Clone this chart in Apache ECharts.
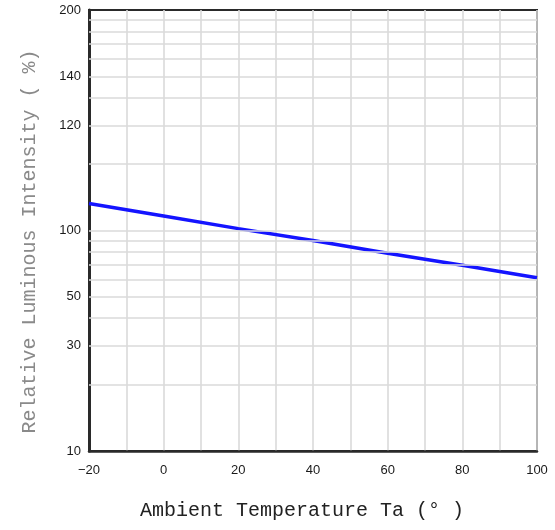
<!DOCTYPE html>
<html>
<head>
<meta charset="utf-8">
<script src="https://cdn.jsdelivr.net/npm/echarts@6/dist/echarts.min.js"></script>
<style>html,body{margin:0;padding:0;background:#fff}#c{width:555px;height:530px}</style>
</head>
<body>
<div id="c"></div>
<script>
// Data (y on the chart's log-style grid)
var temperatures = [-20, 0, 20, 40, 60, 80, 100];
var intensity = [132.5, 116.4, 102, 90.1, 78.8, 69.5, 61.1];
// Tick labels
var xTickValues = [-20, 0, 20, 40, 60, 80, 100];
var xTickLabels = ['\u221220', '0', '20', '40', '60', '80', '100'];
var yTickValues = [10, 30, 50, 100, 300, 500, 1000];
var yTickLabels = ['10', '30', '50', '100', '120', '140', '200'];
var yGridValues = [20, 30, 40, 50, 60, 70, 80, 90, 100, 200, 300, 400, 500, 600, 700, 800, 900];

var chart = echarts.init(document.getElementById('c'), null, {renderer: 'canvas'});
var option = {
  animation: false,
  backgroundColor: '#ffffff',
  grid: {left: 89, right: 18, top: 10, bottom: 79, show: true, borderColor: '#2a2a2a', borderWidth: 2, backgroundColor: 'transparent'},
  xAxis: {
    type: 'value', min: -20, max: 100, interval: 10,
    name: 'Ambient Temperature Ta (\u00b0 )', nameLocation: 'middle', nameGap: 50,
    nameTextStyle: {fontFamily: 'Liberation Mono', fontSize: 20, color: '#222', padding: [0, 22, 0, 0]},
    axisLine: {show: true, onZero: false, lineStyle: {color: '#2a2a2a', width: 2.5}}, axisTick: {show: false},
    axisLabel: {
      customValues: xTickValues,
      margin: 13, fontFamily: 'Liberation Sans', fontSize: 13, color: '#1a1a1a',
      formatter: function (v) { var i = xTickValues.indexOf(v); return i >= 0 ? xTickLabels[i] : ''; }
    },
    splitLine: {show: true, lineStyle: {color: '#dadada', width: 1.6}}
  },
  yAxis: {
    type: 'log', logBase: 10, min: 10, max: 1000,
    name: 'Relative Luminous Intensity ( %)', nameLocation: 'middle', nameGap: 49, nameRotate: 90,
    nameTextStyle: {fontFamily: 'Liberation Mono', fontSize: 20, color: '#8a8a8a', padding: [0, 22, 0, 0]},
    axisLine: {show: true, onZero: false, lineStyle: {color: '#2a2a2a', width: 3}}, axisTick: {show: false},
    axisLabel: {
      customValues: yTickValues,
      margin: 8, fontFamily: 'Liberation Sans', fontSize: 13, color: '#1a1a1a',
      formatter: function (v) {
        for (var i = 0; i < yTickValues.length; i++) { if (Math.abs(yTickValues[i] - v) < 1e-6 * v) return yTickLabels[i]; }
        return '';
      }
    },
    splitLine: {show: false}
  },
  series: [{
    type: 'line',
    data: temperatures.map(function (t, i) { return [t, intensity[i]]; }),
    showSymbol: false, symbol: 'none',
    lineStyle: {color: '#1414ff', width: 3.5},
    markLine: {
      silent: true, symbol: 'none', animation: false,
      label: {show: false},
      lineStyle: {color: '#dadada', width: 1.6, type: 'solid'},
      data: yGridValues.map(function (v) { return {yAxis: v}; })
    },
    z: 3
  }]
};
chart.setOption(option);
</script>
</body>
</html>
